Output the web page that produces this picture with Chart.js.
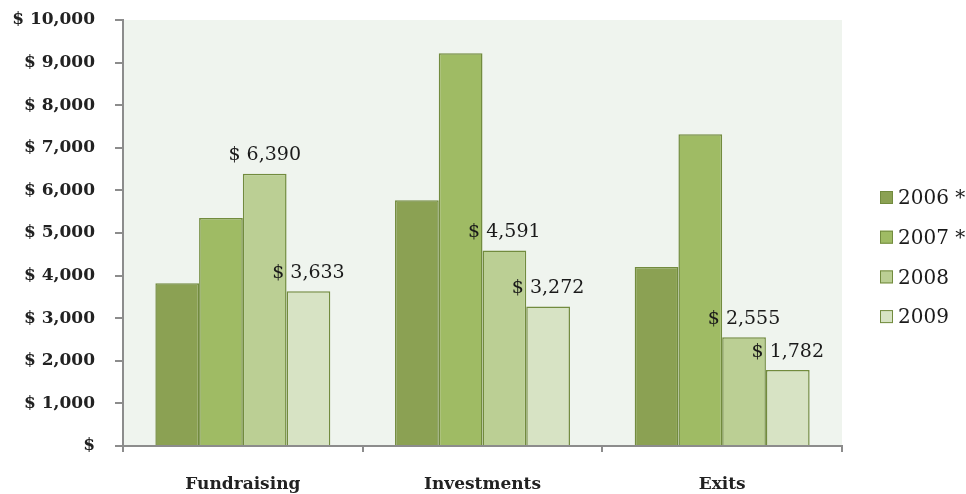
<!DOCTYPE html>
<html>
<head>
<meta charset="utf-8">
<script src="https://cdn.jsdelivr.net/npm/chart.js@4.4.1/dist/chart.umd.min.js"></script>
<style>
  html, body { margin: 0; padding: 0; background: #fff; overflow: hidden; }
  #wrap { width: 966px; height: 494px; }
</style>
</head>
<body>
<div id="wrap"><canvas id="c"></canvas></div>
<script>
// values (US$ millions)
const categories = ['Fundraising', 'Investments', 'Exits'];
const years = ['2006 *', '2007 *', '2008', '2009'];
const v2006 = [3820, 5770, 4200];
const v2007 = [5350, 9220, 7320];
const v2008 = [6390, 4591, 2555];
const v2009 = [3633, 3272, 1782];
const yTicks = [0, 1000, 2000, 3000, 4000, 5000, 6000, 7000, 8000, 9000, 10000];
const labelledYears = ['2008', '2009'];   // only these get value labels

const FILLS = ['#8ba153', '#9fbb64', '#bbcf94', '#d7e3c4'];
const EDGE = '#728b3e';
const SERIF = "'DejaVu Serif', 'Liberation Serif', serif";

const fmt = v => v === 0 ? '$' : '$ ' + v.toLocaleString('en-US');

// light plot background
const plotBg = {
    id: 'plotBg',
    beforeDraw(chart) {
        const { ctx, chartArea: a } = chart;
        ctx.save();
        ctx.fillStyle = '#eff4ee';
        ctx.fillRect(a.left, a.top, a.right - a.left, a.bottom - a.top);
        ctx.restore();
    }
};

// value labels above 2008/2009 bars
const valueLabels = {
    id: 'valueLabels',
    afterDatasetsDraw(chart) {
        const ctx = chart.ctx;
        ctx.save();
        ctx.font = "19px " + SERIF;
        ctx.fillStyle = '#1a1a1a';
        ctx.textAlign = 'center';
        ctx.textBaseline = 'bottom';
        chart.data.datasets.forEach((ds, i) => {
            if (!labelledYears.includes(ds.label)) return;
            chart.getDatasetMeta(i).data.forEach((bar, j) => {
                ctx.fillText(fmt(ds.data[j]), bar.x, bar.y - 9);
            });
        });
        ctx.restore();
    }
};

// legend on the right, drawn by hand so the spacing matches
const sideLegend = {
    id: 'sideLegend',
    afterDraw(chart) {
        const ctx = chart.ctx;
        const x0 = chart.chartArea.right + 38, y0 = 198, step = 39.7;
        ctx.save();
        ctx.font = "20px " + SERIF;
        ctx.textBaseline = 'middle';
        chart.data.datasets.forEach((ds, i) => {
            const y = y0 + i * step;
            ctx.fillStyle = ds.backgroundColor;
            ctx.fillRect(x0, y - 7, 13, 13);
            ctx.strokeStyle = EDGE;
            ctx.lineWidth = 1;
            ctx.strokeRect(x0 + 0.5, y - 6.5, 12, 12);
            ctx.fillStyle = '#1a1a1a';
            ctx.fillText(ds.label, x0 + 18, y + 1);
        });
        ctx.restore();
    }
};

const series = [v2006, v2007, v2008, v2009];

new Chart(document.getElementById('c'), {
    type: 'bar',
    data: {
        labels: categories,
        datasets: years.map((y, i) => ({
            label: y,
            data: series[i],
            backgroundColor: FILLS[i],
            borderColor: EDGE,
            borderWidth: 1.5,
            categoryPercentage: 0.73,
            barPercentage: 1.0
        }))
    },
    options: {
        responsive: true, maintainAspectRatio: false, animation: false,
        layout: { padding: { top: 20, left: 8, right: 124, bottom: 0 } },
        plugins: {
            legend: { display: false },
            tooltip: { enabled: false }
        },
        scales: {
            y: {
                min: 0, max: 10000,
                afterBuildTicks: s => { s.ticks = yTicks.map(v => ({ value: v })); },
                afterFit: s => { s.width = 115; s.paddingTop = 0; },
                ticks: { font: { family: SERIF, size: 17, weight: 'bold' }, color: '#222', padding: 20, callback: v => fmt(v) },
                grid: { drawOnChartArea: false, drawTicks: true, tickLength: 8, color: '#8c8c8c', lineWidth: 2 },
                border: { color: '#8c8c8c', width: 2 }
            },
            x: {
                afterFit: s => { s.height = 48; },
                ticks: { font: { family: SERIF, size: 17, weight: 'bold' }, color: '#222', padding: 22 },
                grid: { offset: true, drawOnChartArea: false, drawTicks: true, tickLength: 6, color: '#8c8c8c', lineWidth: 2 },
                border: { color: '#8c8c8c', width: 2 }
            }
        }
    },
    plugins: [plotBg, valueLabels, sideLegend]
});
</script>
</body>
</html>
